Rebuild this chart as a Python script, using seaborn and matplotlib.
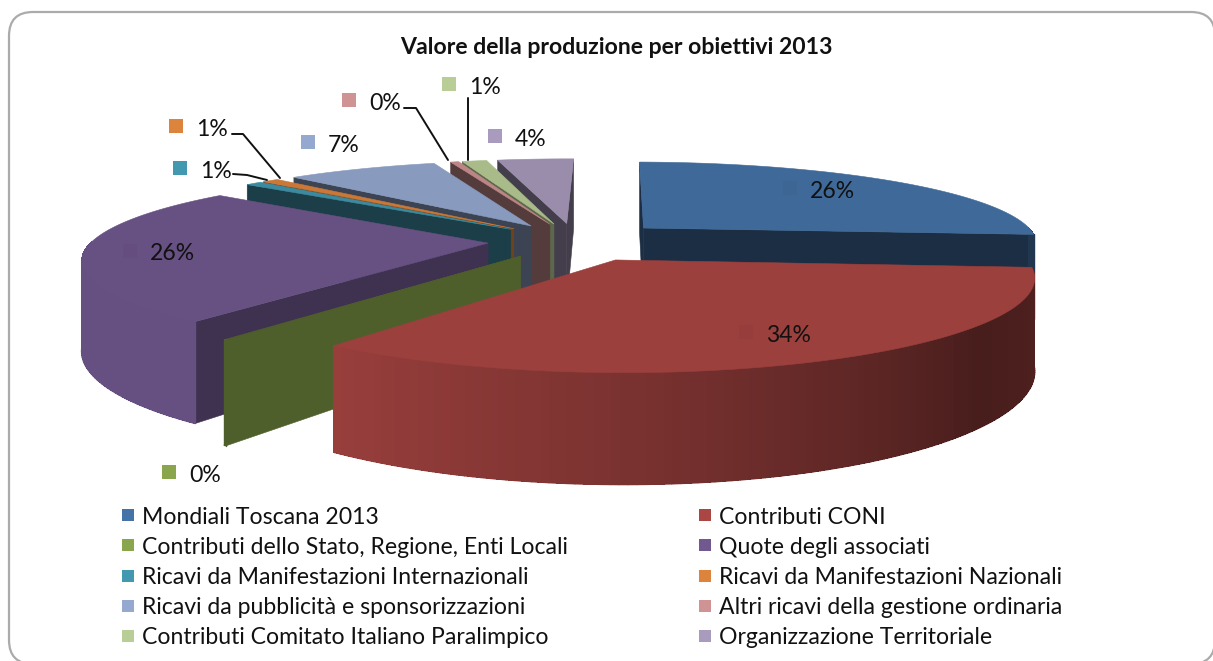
import numpy as np
import pandas as pd
import matplotlib
matplotlib.use("Agg")
import matplotlib.pyplot as plt
from matplotlib.patches import Polygon, FancyBboxPatch
import seaborn as sns

# ---- data ----
categories = ["Mondiali Toscana 2013", "Contributi CONI",
              "Contributi dello Stato, Regione, Enti Locali", "Quote degli associati",
              "Ricavi da Manifestazioni Internazionali", "Ricavi da Manifestazioni Nazionali",
              "Ricavi da pubblicità e sponsorizzazioni", "Altri ricavi della gestione ordinaria",
              "Contributi Comitato Italiano Paralimpico", "Organizzazione Territoriale"]
values = [26.0, 34.0, 0.1, 25.6, 0.8, 0.8, 7.4, 0.4, 1.2, 3.7]
title = "Valore della produzione per obiettivi 2013"

# ---- style ----
colors = ["#4573a7", "#aa4643", "#8aa64d", "#71588f", "#4198af",
          "#dd843c", "#95a9d0", "#d09393", "#b9cd96", "#a99bbd"]
side_dark = [.40, .50, .57, .56, .41, .50, .40, .41, .50, .40]
explode = [.24, .24, .22, .22, .22, .22, .22, .22, .22, .22]
FONT = "Lato"

# ---- layout (pixels) ----
X0, Y0, R, K, P, PX, D = 575, 241, 396, 83, 0.19, 0.17, 86
START = 89
label_marker_x = [790, 746, 169, 130, 180, 176, 308, 349, 449, 495]
label_marker_y = [188, 332, 472, 251, 168, 126, 142, 100, 84, 136]
leaders = {4: [(233, 174), (247, 175), (267, 180)],
           5: [(232, 134), (243, 134), (280, 178)],
           7: [(404, 108), (416, 108), (448, 160)],
           8: [(468, 98), (468, 160)]}
legend_x = [128, 705]
legend_y = [515, 545, 576, 606, 636]

sns.set_theme(style="white")
fig = plt.figure(figsize=(12.13, 6.61), dpi=100, facecolor="white")
ax = fig.add_axes([0, 0, 1, 1])
ax.set_axis_off()
ax.add_patch(FancyBboxPatch((9, 12), 1206, 652, boxstyle="round,pad=0,rounding_size=24",
                            fc="white", ec="#ababab", lw=1.6, zorder=0))


def project(U, V, h=0.0):
    U, V = np.asarray(U, float), np.asarray(V, float)
    w = 1 - P * V
    return X0 + R * U / (1 - PX * V), Y0 + K * V / w + h * D / w


def shade(c, f):
    return tuple(np.array(matplotlib.colors.to_rgb(c)) * f)


total = sum(values)
edges = START - np.cumsum([0] + values) / total * 360
geom = []
for i in range(len(values)):
    a0, a1 = edges[i], edges[i + 1]
    mid = np.radians((a0 + a1) / 2)
    ex, ey = explode[i] * np.cos(mid), -explode[i] * np.sin(mid)
    th = np.radians(np.linspace(a0, a1, max(3, int(abs(a1 - a0)))))
    geom.append((i, ex, ey, ex + np.cos(th), ey - np.sin(th), th))

# far slices first
geom.sort(key=lambda g: g[2])
z = 2
for i, ex, ey, U, V, th in geom:
    c = colors[i]
    top = shade(c, .91 if values[i] >= 0.2 else side_dark[i])
    xa, ya = project(ex, ey)
    xr, yr = project(U, V)
    xb, yb = project(U, V, 1)
    xab, yab = project(ex, ey, 1)
    m = len(xr) // 2
    for j in (0, -1):
        nx, ny = xr[j] - xa, yr[j] - ya
        n = np.array([-ny, nx])
        if n @ np.array([xr[m] - xa, yr[m] - ya]) > 0:
            n = -n
        if n[1] > 0:
            f = shade(c, side_dark[i])
            ax.add_patch(Polygon([(xa, ya), (xr[j], yr[j]), (xb[j], yb[j]), (xab, yab)],
                                 fc=f, ec=f, lw=.4, zorder=z))
            z += 1
    # rim
    for k in range(len(th) - 1):
        if V[k] + V[k + 1] - 2 * ey > -0.02:
            deg = np.degrees((th[k] + th[k + 1]) / 2)
            deg = (deg + 270) % 360 - 270
            fac = np.interp(deg, [-220, -128, -90, -60, -40, -4, 90],
                            [.90, .90, .72, .55, .42, .48, .5])
            if values[i] < 0.5:
                fac = side_dark[i]
            f = shade(c, fac)
            ax.add_patch(Polygon([(xr[k], yr[k]), (xr[k + 1], yr[k + 1]),
                                  (xb[k + 1], yb[k + 1]), (xb[k], yb[k])],
                                 fc=f, ec="none", antialiased=False, zorder=z))
            ax.plot([xb[k], xb[k + 1]], [yb[k], yb[k + 1]], color=f, lw=1,
                    solid_capstyle="round", zorder=z)
            if k == 0 or k == len(th) - 2:
                kk = k if k == 0 else k + 1
                ax.plot([xr[kk], xb[kk]], [yr[kk], yb[kk]], color=f, lw=1, zorder=z)
    z += 1
    ax.add_patch(Polygon(np.c_[np.r_[xa, xr], np.r_[ya, yr]], fc=top, ec=top, lw=.4, zorder=z))
    z += 1

# leader lines
for pts in leaders.values():
    ax.plot(*zip(*pts), color="#111111", lw=1.4, zorder=z)

# data labels
label_df = pd.DataFrame({"x": label_marker_x, "y": label_marker_y, "cat": categories})
palette = dict(zip(categories, colors))
label_colors = dict(palette)
for idx in (0, 1, 3):
    label_colors[categories[idx]] = shade(colors[idx], .89)
sns.scatterplot(data=label_df, x="x", y="y", hue="cat", palette=label_colors, marker="s",
                s=95, linewidth=0, legend=False, ax=ax, zorder=z + 1)
for v, x, y in zip(values, label_marker_x, label_marker_y):
    ax.text(x + 20, y + 3, f"{round(v / total * 100)}%", family=FONT, fontsize=16.6,
            color="#111111", va="center", ha="left", zorder=z + 2)

# legend
lx = [legend_x[n % 2] for n in range(len(categories))]
ly = [legend_y[n // 2] for n in range(len(categories))]
legend_df = pd.DataFrame({"x": lx, "y": ly, "cat": categories})
sns.scatterplot(data=legend_df, x="x", y="y", hue="cat", palette=palette, marker="s",
                s=85, linewidth=0, legend=False, ax=ax, zorder=z + 1)
for name, x, y in zip(categories, lx, ly):
    ax.text(x + 14, y + 2, name, family=FONT, fontsize=16.6, color="#111111",
            va="center", ha="left", zorder=z + 2)

ax.text(616, 48, title, family=FONT, fontsize=16.6, fontweight="bold", color="#111111",
        ha="center", va="center", zorder=z + 2)

ax.set_xlim(0, 1213)
ax.set_ylim(661, 0)
ax.set_xlabel("")
ax.set_ylabel("")
fig.savefig("out.png", dpi=100)
